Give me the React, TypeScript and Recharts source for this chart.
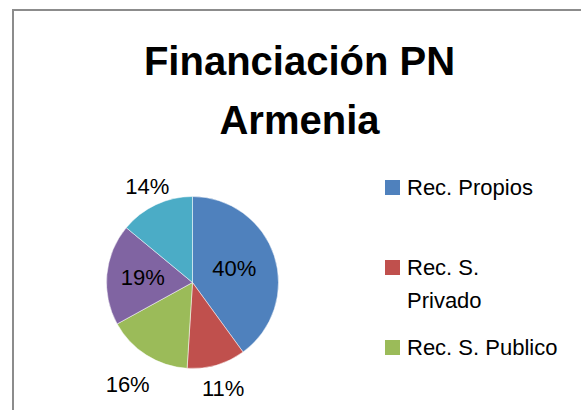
import React from 'react';
import { PieChart, Pie, Cell, Legend } from 'recharts';

const fuentes = ['Rec. Propios', 'Rec. S. Privado', 'Rec. S. Publico', 'Rec. Internacionales', 'Otros'];
const porcentajes = [40, 11, 16, 19, 14];
const colores = ['#4F81BD', '#C0504D', '#9BBB59', '#8064A2', '#4BACC6'];

// how far each percent label sits from the centre (big slices get it inside)
const labelRadius = [44, 110, 121, 50, 106];

const FONT = '"Liberation Sans", Arial, sans-serif';
const RAD = Math.PI / 180;

const data = fuentes.map((name, i) => ({ name, value: porcentajes[i] }));

const renderLabel = (props: any) => {
  const { cx, cy, midAngle, percent, index } = props;
  const r = labelRadius[index];
  const x = cx + r * Math.cos(-midAngle * RAD);
  const y = cy + r * Math.sin(-midAngle * RAD);
  return (
    <text x={x} y={y} fill="#000" textAnchor="middle" dominantBaseline="central"
      style={{ fontFamily: FONT, fontSize: 22 }}>
      {Math.round(percent * 100) + '%'}
    </text>
  );
};

const renderLegend = (props: any) => {
  // keep the data order, recharts sorts by name otherwise
  const items = [...(props.payload || [])].sort(
    (a: any, b: any) => fuentes.indexOf(a.value) - fuentes.indexOf(b.value)
  );
  // the chart frame is cropped, only the first three entries fit in view
  return (
    <div>
      {items.slice(0, 3).map((entry: any, i: number) => (
        <div key={i} style={{ height: 80, display: 'flex', alignItems: 'flex-start' }}>
          <span style={{ width: 15, height: 15, background: entry.color, marginTop: 9, marginRight: 7, flexShrink: 0 }} />
          <span style={{ width: 150.5, lineHeight: '33px' }}>{entry.value}</span>
        </div>
      ))}
    </div>
  );
};

const App = () => {
  return (
    <div style={{ position: 'fixed', left: 0, top: 0, width: 581, height: 410, overflow: 'hidden', background: '#fff' }}>
      <div style={{ position: 'absolute', left: 12, top: 9, width: 700, height: 500, border: '2px solid #8c8c8c' }} />
      <div style={{ position: 'absolute', left: 0, top: 0 }}>
        <PieChart width={581} height={410} margin={{ top: 0, right: 0, bottom: 0, left: 0 }}>
          <Pie
            data={data}
            dataKey="value"
            nameKey="name"
            cx={192.5}
            cy={282.5}
            outerRadius={86}
            startAngle={90}
            endAngle={-270}
            stroke="#fff"
            strokeWidth={0.5}
            label={renderLabel}
            labelLine={false}
            isAnimationActive={false}
          >
            {data.map((d, i) => (
              <Cell key={d.name} fill={colores[i]} />
            ))}
          </Pie>
          <Legend
            layout="vertical"
            align="right"
            verticalAlign="top"
            content={renderLegend}
            wrapperStyle={{ left: 385, top: 170.5, width: 190, fontFamily: FONT, fontSize: 22, color: '#000' }}
          />
        </PieChart>
      </div>
      <div style={{ position: 'absolute', left: 13, top: 32, width: 573, textAlign: 'center', fontFamily: FONT, fontWeight: 'bold', fontSize: 40, lineHeight: '59px', color: '#000' }}>
        Financiación PN<br />Armenia
      </div>
    </div>
  );
};

export default App;
